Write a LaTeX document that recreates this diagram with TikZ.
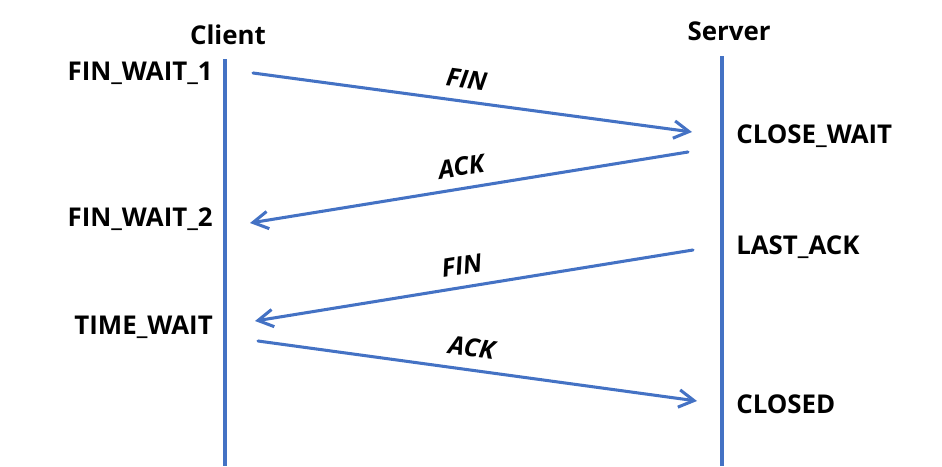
\documentclass[tikz,border=0pt]{standalone}
\usepackage{fontspec}
\setmainfont{Open Sans}
\usepackage{xcolor}
\usetikzlibrary{positioning, arrows.meta}
\definecolor{lineblue}{HTML}{4472C4}
\tikzset{
  actor/.style={font=\bfseries\fontsize{19.5}{22}\selectfont, inner sep=0pt},
  state/.style={font=\bfseries\fontsize{19.5}{22}\selectfont, inner sep=0pt},
  life/.style={draw=lineblue, line width=2.3pt},
  msg/.style={-{Straight Barb[length=4mm, width=4.6mm]}, draw=lineblue,
              line width=2.3pt, line cap=round},
  seg/.style={font=\bfseries\itshape\fontsize{19}{22}\selectfont, sloped,
              above=8.5pt, inner sep=0pt}
}

\begin{document}
\begin{tikzpicture}[x=0.754pt, y=-0.754pt]
  \useasboundingbox (0,0) rectangle (942,466);
  % lifelines
  \node[actor] (client) at (228,35) {Client};
  \node[actor] (server) at (729,31) {Server};
  \coordinate (ctop) at (225,59);  \coordinate (cbot) at (225,466);
  \coordinate (stop) at (722,56);  \coordinate (sbot) at (722,466);
  \draw[life] (ctop) -- (cbot);
  \draw[life] (stop) -- (sbot);
  % states
  \node[state, anchor=east] (fw1) at (213,73)  {FIN\_WAIT\_1};
  \node[state, anchor=east] (fw2) at (213,219) {FIN\_WAIT\_2};
  \node[state, anchor=east] (tw)  at (213,327) {TIME\_WAIT};
  \node[state, anchor=west] (cw)  at (736,136) {CLOSE\_WAIT};
  \node[state, anchor=west] (la)  at (736,247) {LAST\_ACK};
  \node[state, anchor=west] (cl)  at (736,404) {CLOSED};
  % message ends
  \coordinate (m1a) at (253,73);  \coordinate (m1b) at (692,132);
  \coordinate (m2a) at (688,152); \coordinate (m2b) at (250,223);
  \coordinate (m3a) at (693,250); \coordinate (m3b) at (255,321);
  \coordinate (m4a) at (258,341); \coordinate (m4b) at (697,401);
  \draw[msg] (m1a) -- node[seg, pos=0.48] {FIN} (m1b);
  \draw[msg] (m2a) -- node[seg, pos=0.51] {ACK} (m2b);
  \draw[msg] (m3a) -- node[seg, pos=0.52] {FIN} (m3b);
  \draw[msg] (m4a) -- node[seg, pos=0.48] {ACK} (m4b);
\end{tikzpicture}
\end{document}
